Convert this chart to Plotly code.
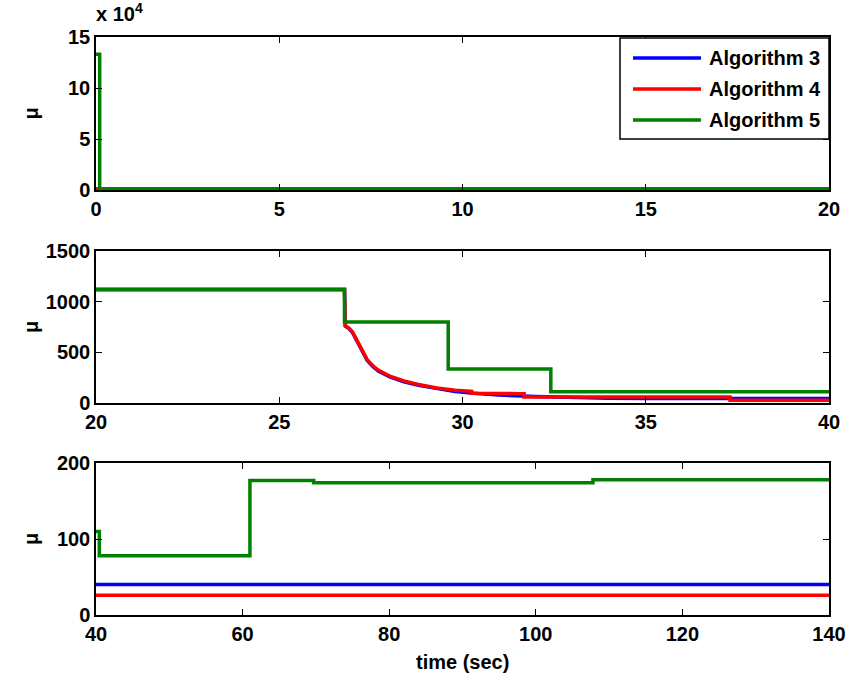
import plotly.graph_objects as go

# ---- data ----
alg3_t = [0, 26.78, 26.8, 26.9, 27.0, 27.1, 27.2, 27.3, 27.4, 27.55, 27.7, 28.0, 28.4, 28.8, 29.3, 29.8, 30.3, 31.0, 32.0, 33.0, 34.0, 35.0, 36.0, 37.0, 38.0, 40.0, 140]
alg3_v = [1120, 1120, 760, 735, 695, 625, 550, 480, 420, 360, 315, 260, 210, 174, 140, 114, 95, 78, 63, 53, 47, 44, 42, 41, 40, 40, 40]

alg4_t = [0, 26.78, 26.8, 26.9, 27.0, 27.1, 27.2, 27.3, 27.4, 27.55, 27.7, 28.0, 28.4, 28.8, 29.3, 29.8, 30.25, 30.25, 31.68, 31.68, 37.3, 37.3, 140]
alg4_v = [1120, 1120, 765, 740, 700, 630, 555, 485, 428, 368, 325, 268, 218, 182, 148, 125, 115, 97, 92, 60, 58, 26, 26]

alg5_t = [0, 0.1, 26.78, 29.61, 32.41, 40.45, 61.0, 69.7, 107.8, 140]
alg5_v = [133000, 1120, 800, 335, 110, 78, 177, 174, 178, 178]

names = ["Algorithm 3", "Algorithm 4", "Algorithm 5"]
colors = ["#0000ff", "#ff0000", "#008000"]

x_ranges = [[0, 20], [20, 40], [40, 140]]
y_ranges = [[0, 150000], [0, 1500], [0, 200]]
x_ticks = [[0, 5, 10, 15, 20], [20, 25, 30, 35, 40], [40, 60, 80, 100, 120, 140]]
y_ticks = [[0, 50000, 100000, 150000], [0, 500, 1000, 1500], [0, 100, 200]]
y_ticktext = [["0", "5", "10", "15"], ["0", "500", "1000", "1500"], ["0", "100", "200"]]

series = [
    (alg3_t, alg3_v, "linear"),
    (alg4_t, alg4_v, "linear"),
    (alg5_t, alg5_v, "hv"),
]

W, H = 848, 679
xdom = [96 / W, 829 / W]
ypix = [(37, 190), (251, 403), (463, 615)]
ydoms = [[(H - b) / H, (H - t) / H] for t, b in ypix]

FAM = "Liberation Sans, Arial, sans-serif"
fnt = dict(family=FAM, size=20, color="black", weight="bold")

fig = go.Figure()
for p in range(3):
    suffix = "" if p == 0 else str(p + 1)
    for i, (t, v, shape) in enumerate(series):
        fig.add_trace(go.Scatter(
            x=t, y=v, mode="lines",
            line=dict(color=colors[i], width=3.5, shape=shape),
            name=names[i], legendgroup=names[i],
            showlegend=False,
            xaxis="x" + suffix, yaxis="y" + suffix,
        ))

def px(x):
    return x / W

def py(y):
    return (H - y) / H

annotations = [
    dict(text="x 10<sup>4</sup>", x=px(94), y=py(27), xref="paper", yref="paper",
         xanchor="left", yanchor="bottom", showarrow=False, font=fnt),
    dict(text="time (sec)", x=px((96 + 829) / 2), y=py(662), xref="paper", yref="paper",
         xanchor="center", yanchor="middle", showarrow=False, font=fnt),
]
for t, b in ypix:
    annotations.append(dict(
        text="μ", x=px(31), y=py((t + b) / 2), xref="paper", yref="paper",
        xanchor="center", yanchor="middle", showarrow=False, textangle=-90, font=fnt))

# legend box (drawn as layout shapes + text, MATLAB style)
shapes = [dict(type="rect", xref="paper", yref="paper",
               x0=px(620), x1=px(829), y0=py(139), y1=py(38),
               line=dict(color="black", width=1.5), fillcolor="white", layer="above")]
legend_rows = [58, 89, 120]
for i, name in enumerate(names):
    yy = legend_rows[i]
    shapes.append(dict(type="line", xref="paper", yref="paper",
                       x0=px(633), x1=px(701), y0=py(yy), y1=py(yy),
                       line=dict(color=colors[i], width=3.5), layer="above"))
    annotations.append(dict(text=name, x=px(707), y=py(yy), xref="paper", yref="paper",
                            xanchor="left", yanchor="middle", showarrow=False, font=fnt))

layout = dict(
    width=W, height=H,
    margin=dict(l=0, r=0, t=0, b=0),
    paper_bgcolor="white", plot_bgcolor="white",
    font=fnt,
    showlegend=False,
    annotations=annotations,
    shapes=shapes,
)

for p in range(3):
    suffix = "" if p == 0 else str(p + 1)
    axis_common = dict(
        showline=True, linecolor="black", linewidth=1.5, mirror="ticks",
        ticks="inside", ticklen=6, tickwidth=1.2, tickcolor="black",
        showgrid=False, zeroline=False, automargin=False,
        tickfont=fnt,
    )
    layout["xaxis" + suffix] = dict(
        axis_common, domain=xdom, range=x_ranges[p],
        tickvals=x_ticks[p], anchor="y" + suffix,
    )
    layout["yaxis" + suffix] = dict(
        axis_common, domain=ydoms[p], range=y_ranges[p],
        tickvals=y_ticks[p], ticktext=y_ticktext[p], anchor="x" + suffix,
    )

fig.update_layout(**layout)
fig.write_html("out.html")
